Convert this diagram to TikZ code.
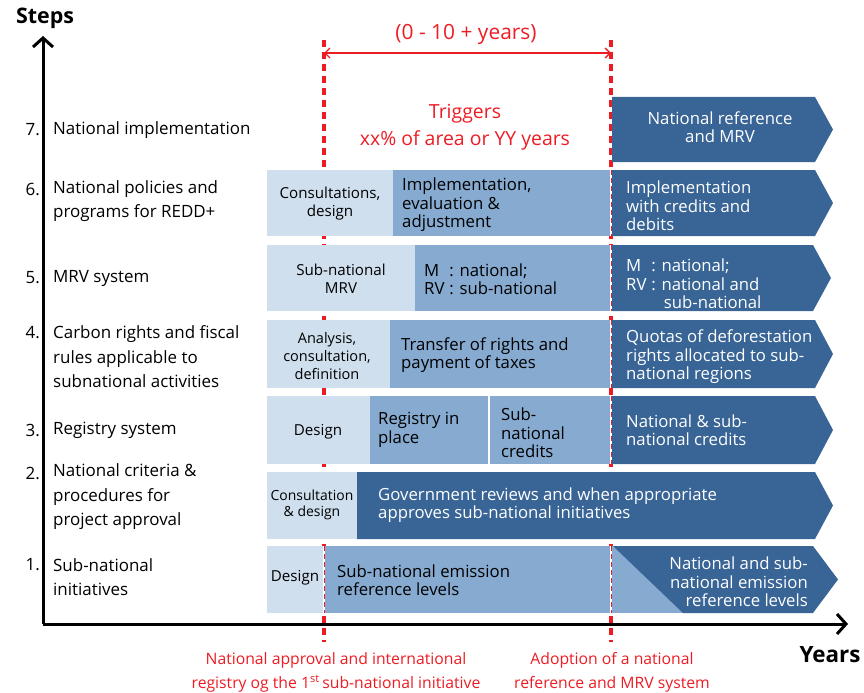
\documentclass[tikz,border=0pt]{standalone}
\usepackage{fontspec}
\setmainfont{Open Sans}
\usetikzlibrary{arrows.meta}
\definecolor{lblue}{HTML}{CFDFEE}
\definecolor{mblue}{HTML}{86AAD0}
\definecolor{dblue}{HTML}{386496}
\definecolor{myred}{HTML}{ED1C24}
\begin{document}
\begin{tikzpicture}[x=1bp,y=-1bp,
  lb/.style={fill=lblue},
  mb/.style={fill=mblue},
  db/.style={fill=dblue},
  lab/.style={font=\fontsize{17}{24.5}\selectfont,align=left,anchor=west,inner sep=0},
  num/.style={font=\fontsize{17}{24.5}\selectfont,anchor=east,inner sep=0},
  btxt/.style={font=\fontsize{16.8}{18.5}\selectfont,align=left,anchor=west,inner sep=0},
  wtxt/.style={btxt,text=white},
  stxt/.style={font=\fontsize{15.2}{18}\selectfont,align=center,inner sep=0},
  sstxt/.style={font=\fontsize{14.6}{18}\selectfont,align=center,inner sep=0},
  redtxt/.style={text=myred,font=\fontsize{21}{24}\selectfont,align=center,inner sep=0},
  reddash/.style={myred,line width=3.5bp,dash pattern=on 7bp off 5bp},
  thindash/.style={myred,line width=1bp,dash pattern=on 5bp off 3bp},
  axis/.style={line width=3bp,-{Straight Barb[length=9bp,width=20bp,line width=3bp]}}
]
\useasboundingbox (0,0) rectangle (864,693);

% coordinates for guide lines
\coordinate (l1top) at (324,40);
\coordinate (l1bot) at (324,642);
\coordinate (l2top) at (611,40);
\coordinate (l2bot) at (611,642);
\coordinate (la) at (324,53);
\coordinate (ra) at (611,53);

% thick red dashed guides
\draw[reddash] (l1top) -- (l1bot);
\draw[reddash] (l2top) -- (l2bot);
\draw[myred,line width=1.3bp,{Straight Barb[length=5bp,width=10bp,line width=1.3bp]}-{Straight Barb[length=5bp,width=10bp,line width=1.3bp]}] (la) -- (ra);

% Row 7
\fill[db] (612,97) -- (815,97) -- (833,129.5) -- (815,162) -- (612,162) -- cycle;
% Row 6
\fill[lb] (267,170) rectangle (393,236);
\fill[mb] (393,170) rectangle (612,236);
\fill[db] (612,170) -- (815,170) -- (833,203) -- (815,236) -- (612,236) -- cycle;
% Row 5
\fill[lb] (267,245) rectangle (415,311);
\fill[mb] (415,245) rectangle (612,311);
\fill[db] (612,245) -- (813,245) -- (831,278) -- (813,311) -- (612,311) -- cycle;
% Row 4
\fill[lb] (267,320) rectangle (390,388);
\fill[mb] (390,320) rectangle (612,388);
\fill[db] (612,320) -- (815,320) -- (833,354) -- (815,388) -- (612,388) -- cycle;
% Row 3
\fill[lb] (267,396) rectangle (370,464);
\fill[mb] (370,396) rectangle (488,464);
\fill[mb] (490,396) rectangle (612,464);
\fill[db] (612,396) -- (815,396) -- (833,430) -- (815,464) -- (612,464) -- cycle;
% Row 2
\fill[lb] (267,472) rectangle (357,539);
\fill[db] (357,472) -- (815,472) -- (833,505.5) -- (815,539) -- (357,539) -- cycle;
% Row 1
\fill[lb] (267,546) rectangle (324,613);
\fill[mb] (324,546) rectangle (683,613);
\fill[db] (613,546) -- (813,546) -- (838,579.5) -- (813,613) -- (683,613) -- cycle;

% thin dashed guides over boxes
\foreach \ya/\yb in {170/236,245/311,320/388,396/464,546/613}{
  \draw[white,line width=1.2bp] (611,\ya) -- (611,\yb);
  \draw[thindash] (611,\ya) -- (611,\yb);
}
\draw[white,line width=1.2bp] (324,546) -- (324,613);
\draw[thindash] (324,546) -- (324,613);

% axes
\coordinate (o) at (43,624);
\coordinate (ytip) at (43,36);
\coordinate (xtip) at (848,624);
\draw[axis] (o) -- (ytip);
\draw[axis] (o) -- (xtip);
\node[font=\fontsize{21.5}{24}\bfseries\selectfont,inner sep=0] (steps) at (45,18) {Steps};
\node[font=\fontsize{22.5}{24}\bfseries\selectfont,inner sep=0] (years) at (830,655) {Years};

% red texts
\node[redtxt] (range) at (466,34) {(0 - 10 + years)};
\node[redtxt,font=\fontsize{19.5}{27}\selectfont] (trig) at (465,127) {Triggers\\xx\% of area or YY years};
\node[redtxt,font=\fontsize{15.8}{24}\selectfont] (nat) at (336,672) {National approval and international\\registry og the 1\textsuperscript{st}\,sub-national initiative};
\node[redtxt,font=\fontsize{15.8}{24}\selectfont] (adop) at (612,672) {Adoption of a national\\reference and MRV system};

% step labels
\node[num] (n7) at (40,130) {7.};
\node[lab] (s7) at (53,130) {National implementation};
\node[num] (n6) at (40,189) {6.};
\node[lab] (s6) at (53,201) {National policies and\\programs for REDD+};
\node[num] (n5) at (40,278) {5.};
\node[lab] (s5) at (53,278) {MRV system};
\node[num] (n4) at (40,333) {4.};
\node[lab] (s4) at (53,357) {Carbon rights and fiscal\\rules applicable to\\subnational activities};
\node[num] (n3) at (40,430) {3.};
\node[lab] (s3) at (53,430) {Registry system};
\node[num] (n2) at (40,473) {2.};
\node[lab] (s2) at (53,497) {National criteria \&\\procedures for\\project approval};
\node[num] (n1) at (40,565) {1.};
\node[lab] (s1) at (53,577) {Sub-national\\initiatives};

% box texts
\node[wtxt,align=center,anchor=center] (b7) at (720,127) {National reference\\and MRV};

\node[stxt] (b6a) at (330,204) {Consultations,\\design};
\node[btxt] (b6b) at (402,205) {Implementation,\\evaluation \&\\adjustment};
\node[wtxt] (b6c) at (626,206) {Implementation\\with credits and\\debits};

\node[stxt] (b5a) at (341,279) {Sub-national\\MRV};
\node[btxt] (b5b) at (424,279) {\makebox[1.5em][l]{M}: national;\\\makebox[1.5em][l]{RV}: sub-national};
\node[wtxt] (b5c) at (626,284) {\makebox[1.5em][l]{M}: national;\\\makebox[1.5em][l]{RV}: national and\\\hspace{2.25em}sub-national};

\node[sstxt] (b4a) at (327,356) {Analysis,\\consultation,\\definition};
\node[btxt] (b4b) at (401,355) {Transfer of rights and\\payment of taxes};
\node[wtxt] (b4c) at (626,357) {Quotas of deforestation\\rights allocated to sub-\\national regions};

\node[stxt] (b3a) at (318,432) {Design};
\node[btxt] (b3b) at (378,430) {Registry in\\place};
\node[btxt] (b3c) at (501,433) {Sub-\\national\\credits};
\node[wtxt] (b3d) at (626,430) {National \& sub-\\national credits};

\node[sstxt,font=\fontsize{14}{16}\selectfont] (b2a) at (312,505) {Consultation\\\& design};
\node[wtxt] (b2b) at (378,505) {Government reviews and when appropriate\\approves sub-national initiatives};

\node[stxt] (b1a) at (295,578) {Design};
\node[btxt] (b1b) at (337,580) {Sub-national emission\\reference levels};
\node[wtxt,align=right,anchor=east] (b1c) at (808,582) {National and sub-\\national emission\\reference levels};

\end{tikzpicture}
\end{document}
